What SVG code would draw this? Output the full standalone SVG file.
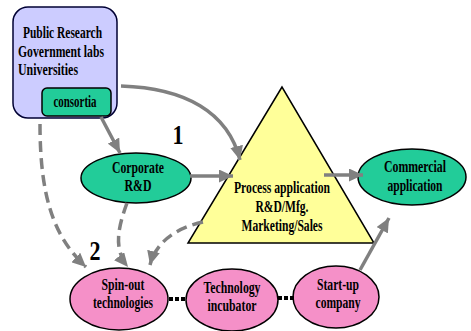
<svg xmlns="http://www.w3.org/2000/svg" width="471" height="331" viewBox="0 0 471 331">
<defs>
<marker id="ah" markerUnits="userSpaceOnUse" markerWidth="15" markerHeight="13" refX="14" refY="6.5" orient="auto">
<path d="M0,0 L14,6.5 L0,13 z" fill="#808080"/>
</marker>
</defs>
<style>
text{font-family:"Liberation Serif","Times New Roman",serif;font-weight:bold;font-size:16px;fill:#000;}
.c{text-anchor:middle;}
.green{fill:#22CC99;stroke:#000;stroke-width:1.5;}
.pink{fill:#F590C8;stroke:#000;stroke-width:1.5;}
.arr{fill:none;stroke:#808080;stroke-width:3.5;marker-end:url(#ah);}
.dash{fill:none;stroke:#808080;stroke-width:3.5;stroke-dasharray:11 6;marker-end:url(#ah);}
.dot{fill:none;stroke:#000;stroke-width:4;stroke-dasharray:4 2;}
.num{font-size:27px;}
</style>
<rect width="471" height="331" fill="#fff"/>
<g id="public">
<rect x="13" y="7" width="104" height="111" rx="15" ry="15" fill="#CCCCFF" stroke="#000033" stroke-width="1.5"/>
<text x="23" y="38" textLength="79" lengthAdjust="spacingAndGlyphs">Public Research</text>
<text x="18" y="57" textLength="86" lengthAdjust="spacingAndGlyphs">Government labs</text>
<text x="18" y="75" textLength="60" lengthAdjust="spacingAndGlyphs">Universities</text>
</g>
<g id="consortia">
<rect x="42" y="88" width="69" height="28" rx="5" ry="5" class="green"/>
<text x="75" y="107" class="c" textLength="43" lengthAdjust="spacingAndGlyphs">consortia</text>
</g>
<g id="corporate">
<ellipse cx="136" cy="178" rx="55" ry="25" class="green"/>
<text x="138" y="173" class="c" textLength="52" lengthAdjust="spacingAndGlyphs">Corporate</text>
<text x="138" y="191" class="c" textLength="27" lengthAdjust="spacingAndGlyphs">R&amp;D</text>
</g>
<g id="process">
<polygon points="282,87 188,243 374,243" fill="#FFFF99" stroke="#000" stroke-width="1.5"/>
<text x="282" y="193" class="c" textLength="96" lengthAdjust="spacingAndGlyphs">Process application</text>
<text x="282" y="212" class="c" textLength="53" lengthAdjust="spacingAndGlyphs">R&amp;D/Mfg.</text>
<text x="282" y="231" class="c" textLength="81" lengthAdjust="spacingAndGlyphs">Marketing/Sales</text>
</g>
<g id="commercial">
<ellipse cx="412" cy="177" rx="54" ry="28" class="green"/>
<text x="415" y="172" class="c" textLength="62" lengthAdjust="spacingAndGlyphs">Commercial</text>
<text x="415" y="191" class="c" textLength="55" lengthAdjust="spacingAndGlyphs">application</text>
</g>
<g id="spinout">
<ellipse cx="119" cy="299" rx="49" ry="31" class="pink"/>
<text x="123" y="290" class="c" textLength="43" lengthAdjust="spacingAndGlyphs">Spin-out</text>
<text x="123" y="308" class="c" textLength="60" lengthAdjust="spacingAndGlyphs">technologies</text>
</g>
<g id="incubator">
<ellipse cx="232" cy="300" rx="46" ry="31" class="pink"/>
<text x="232" y="293" class="c" textLength="57" lengthAdjust="spacingAndGlyphs">Technology</text>
<text x="232" y="311" class="c" textLength="49" lengthAdjust="spacingAndGlyphs">incubator</text>
</g>
<g id="startup">
<ellipse cx="336" cy="297" rx="43" ry="31" class="pink"/>
<text x="338" y="290" class="c" textLength="42" lengthAdjust="spacingAndGlyphs">Start-up</text>
<text x="338" y="308" class="c" textLength="45" lengthAdjust="spacingAndGlyphs">company</text>
</g>
<g id="connectors">
<path class="arr" d="M121,86 C185,88 228,112 240,160"/>
<path class="arr" d="M101,117 L120,153"/>
<path class="arr" d="M190,176 L233,176"/>
<path class="arr" d="M324,175 L363,175"/>
<path class="arr" d="M360,270 L389,218"/>
<path class="dash" d="M40,124 C40,200 55,238 86,267"/>
<path class="dash" d="M127,203 C117,230 114,250 128,267"/>
<path class="dash" d="M203,222 C176,228 156,242 150,265"/>
<path class="dot" d="M169,299 L186,299"/>
<path class="dot" d="M278,298 L294,298"/>
</g>
<g id="labels">
<text x="178" y="144" class="c num" textLength="11" lengthAdjust="spacingAndGlyphs">1</text>
<text x="95" y="260" class="c num" textLength="11" lengthAdjust="spacingAndGlyphs">2</text>
</g>
</svg>
